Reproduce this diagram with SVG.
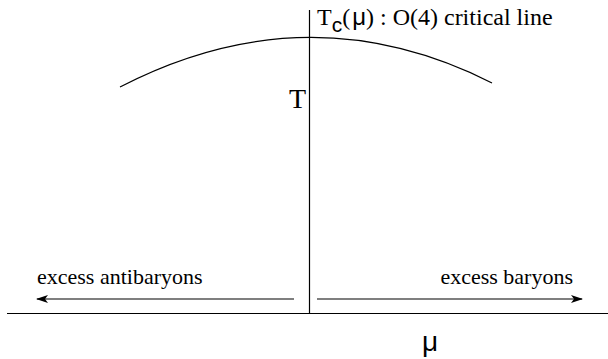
<svg xmlns="http://www.w3.org/2000/svg" width="608" height="359" viewBox="0 0 608 359">
<defs>
<style>
.ln{stroke:#000;stroke-width:1.2;fill:none}
.serif{font-family:"Liberation Serif","Times New Roman",serif;fill:#000}
.sans{font-family:"Liberation Sans",Arial,sans-serif;fill:#000}
</style>
<marker id="ah" markerWidth="12" markerHeight="8" refX="11" refY="4" orient="auto" markerUnits="userSpaceOnUse">
<path d="M0,0 L12,4 L0,8 L3,4 Z" fill="#000"/>
</marker>
</defs>
<g id="axes">
<line class="ln" x1="309.5" y1="10" x2="309.5" y2="313.5"/>
<line class="ln" x1="7" y1="313.5" x2="608" y2="313.5"/>
</g>
<g id="critical-line">
<path class="ln" d="M120,87 Q308,-10 492,83"/>
</g>
<g id="connectors">
<line class="ln" x1="294" y1="299" x2="37" y2="299" marker-end="url(#ah)"/>
<line class="ln" x1="317" y1="299" x2="582" y2="299" marker-end="url(#ah)"/>
</g>
<g id="labels">
<text class="serif" x="317" y="25" font-size="24">T<tspan class="sans" dy="7" font-size="21">c</tspan><tspan dy="-7">(</tspan><tspan class="sans" dx="2">μ</tspan><tspan>) : O(4) critical line</tspan></text>
<text class="serif" x="306" y="108" font-size="28" text-anchor="end">T</text>
<text class="serif" x="37" y="284" font-size="22">excess antibaryons</text>
<text class="serif" x="573" y="284" font-size="22" text-anchor="end">excess baryons</text>
<text class="sans" x="422" y="351" font-size="28">μ</text>
</g>
</svg>
